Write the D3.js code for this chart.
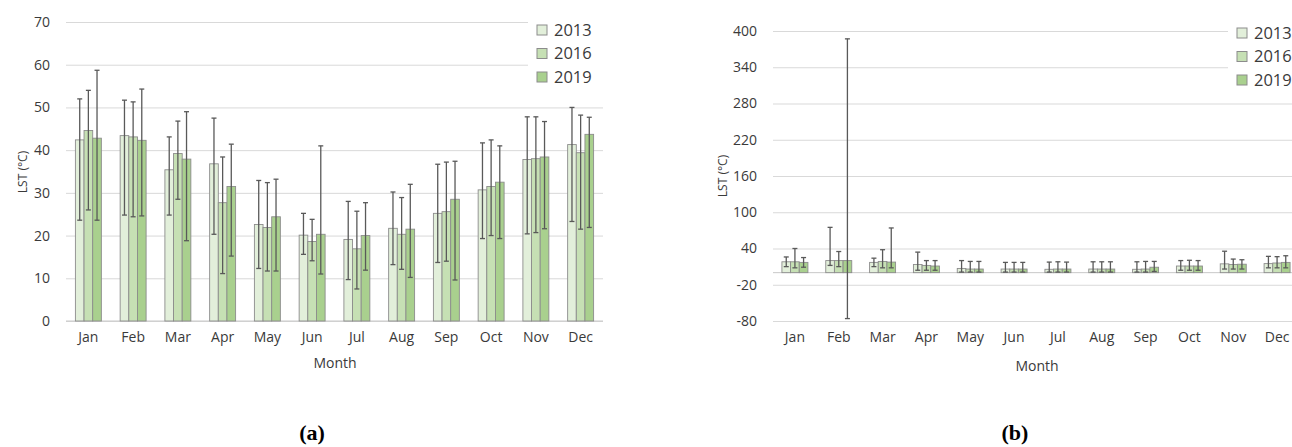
<!DOCTYPE html>
<html>
<head>
<meta charset="utf-8">
<script src="https://cdn.jsdelivr.net/npm/d3@7"></script>
<style>
  body { margin: 0; background: #fff; }
  text { font-family: "Open Sans", sans-serif; fill: #3a3a3a; }
</style>
</head>
<body>
<script>
// months + years
const months = ["Jan", "Feb", "Mar", "Apr", "May", "Jun", "Jul", "Aug", "Sep", "Oct", "Nov", "Dec"];
const years = ["2013", "2016", "2019"];
const colors = ["#e2efda", "#c6e0b4", "#a9d08e"];

// panel (a) mean LST and error bar ends
const lstA2013 = [42.4, 43.4, 35.4, 36.8, 22.6, 20.1, 19.1, 21.7, 25.2, 30.7, 37.8, 41.3];
const lstA2016 = [44.6, 43.1, 39.2, 27.7, 21.9, 18.6, 16.9, 20.3, 25.6, 31.5, 38.0, 39.4];
const lstA2019 = [42.8, 42.3, 37.9, 31.5, 24.4, 20.3, 20.0, 21.5, 28.5, 32.5, 38.4, 43.7];
const hiA2013 = [52.0, 51.7, 43.1, 47.5, 32.9, 25.2, 28.0, 30.2, 36.7, 41.7, 47.8, 50.0];
const hiA2016 = [54.0, 51.3, 46.8, 38.4, 32.4, 23.8, 25.7, 28.9, 37.2, 42.4, 47.8, 48.2];
const hiA2019 = [58.7, 54.3, 49.0, 41.4, 33.2, 41.0, 27.7, 32.0, 37.4, 41.0, 46.7, 47.7];
const loA2013 = [23.6, 24.8, 24.8, 20.3, 12.3, 15.6, 9.7, 13.2, 13.7, 19.3, 20.4, 23.3];
const loA2016 = [26.0, 24.4, 28.5, 11.1, 11.7, 14.1, 7.5, 12.1, 14.0, 20.0, 20.7, 21.5];
const loA2019 = [23.6, 24.6, 18.8, 15.2, 11.7, 11.0, 11.9, 10.2, 9.6, 19.3, 21.6, 21.9];
const ticksA = [0, 10, 20, 30, 40, 50, 60, 70];

// panel (b)
const lstB2013 = [18, 20, 17, 13.5, 7, 6, 5.6, 6, 5.6, 11, 14.6, 15];
const lstB2016 = [18, 20, 18.6, 12, 6, 6, 6, 6, 6, 11, 13.5, 16];
const lstB2019 = [17, 20, 17.5, 11, 6, 6, 6, 6, 9, 11, 14, 17];
const hiB2013 = [26, 75, 24, 34, 20, 17, 17.5, 18, 18, 20, 35.5, 27];
const hiB2016 = [40, 35, 38, 20, 18.6, 17, 18, 18, 18.6, 20.5, 22.5, 26.5];
const hiB2019 = [25, 387, 74, 20, 18.6, 17, 17.5, 18, 18.6, 20, 21.4, 28];
const loB2013 = [10, 12, 10, 4, 1, 1, 1, 1, 1, 4, 6, 8];
const loB2016 = [8, 10, 8, 4, 1, 1, 1, 1, 1, 4, 6, 8];
const loB2019 = [9, -76, 8, 4, 1, 1, 1, 1, 2, 4, 6, 8];
const ticksB = [-80, -20, 40, 100, 160, 220, 280, 340, 400];

var svg = d3.select("body").append("svg")
    .attr("width", 1292)
    .attr("height", 447);

function drawPanel(p) {
    let g = svg.append("g");
    let x = d3.scaleBand().domain(months).range([p.x0, p.x1]).paddingInner(p.pad).paddingOuter(p.pad / 2);
    let xs = d3.scaleBand().domain(years).range([0, x.bandwidth()]);
    let y = d3.scaleLinear().domain(p.domain).range([p.y0, p.y1]);

    // gridlines + y labels (plain hyphen for negatives, like the original)
    let yAxis = g.append("g")
        .attr("transform", "translate(" + p.x0 + ",0)")
        .call(d3.axisLeft(y).tickValues(p.ticks).tickFormat(d => String(d))
            .tickSize(-(p.x1 - p.x0)).tickPadding(16));
    yAxis.select(".domain").remove();
    yAxis.selectAll("line").attr("stroke", "#d9d9d9");
    yAxis.selectAll("text").attr("font-size", 14);

    // legend background hides top gridlines
    g.append("rect")
        .attr("x", p.legX - 9).attr("y", p.legY - 14)
        .attr("width", p.x1 - p.legX + 9).attr("height", 68)
        .attr("fill", "#fff");

    // zero line
    g.append("line")
        .attr("x1", p.x0).attr("x2", p.x1)
        .attr("y1", y(0)).attr("y2", y(0))
        .attr("stroke", "#c8c8c8");

    let xAxis = g.append("g")
        .attr("transform", "translate(0," + p.y0 + ")")
        .call(d3.axisBottom(x).tickSize(0).tickPadding(11));
    xAxis.select(".domain").remove();
    xAxis.selectAll("text").attr("font-size", 14);

    p.series.forEach(function(s, k) {
        let grp = g.append("g");
        months.forEach(function(m, i) {
            let bx = x(m) + xs(years[k]);
            let w = xs.bandwidth();
            let v = s.mean[i];
            grp.append("rect")
                .attr("x", bx).attr("width", w)
                .attr("y", Math.min(y(v), y(0)))
                .attr("height", Math.abs(y(0) - y(v)))
                .attr("fill", colors[k])
                .attr("stroke", "#8c8c8c")
                .attr("stroke-width", 0.9);
        });
    });
    // error bars drawn on top
    p.series.forEach(function(s, k) {
        months.forEach(function(m, i) {
            let cx = x(m) + xs(years[k]) + xs.bandwidth() / 2;
            let eg = g.append("g").attr("stroke", "#595959").attr("stroke-width", 1.3);
            eg.append("line").attr("x1", cx).attr("x2", cx).attr("y1", y(s.lo[i])).attr("y2", y(s.hi[i]));
            eg.append("line").attr("x1", cx - 2.5).attr("x2", cx + 2.5).attr("y1", y(s.hi[i])).attr("y2", y(s.hi[i]));
            eg.append("line").attr("x1", cx - 2.5).attr("x2", cx + 2.5).attr("y1", y(s.lo[i])).attr("y2", y(s.lo[i]));
        });
    });

    // legend
    years.forEach(function(yr, k) {
        let ly = p.legY + k * 23.5;
        g.append("rect")
            .attr("x", p.legX).attr("y", ly - 5)
            .attr("width", 10).attr("height", 10)
            .attr("fill", colors[k]).attr("stroke", "#8c8c8c");
        g.append("text")
            .attr("x", p.legX + 17).attr("y", ly)
            .attr("dy", "0.36em")
            .attr("font-size", 16.5)
            .text(yr);
    });

    // axis titles
    g.append("text")
        .attr("transform", "translate(" + p.ylabX + "," + p.ylabY + ") rotate(-90)")
        .attr("text-anchor", "middle")
        .attr("dy", "0.35em")
        .attr("font-size", 12)
        .text("LST (°C)");
    g.append("text")
        .attr("x", p.monthX).attr("y", p.monthY)
        .attr("text-anchor", "middle")
        .attr("font-size", 14)
        .text("Month");
    g.append("text")
        .attr("x", p.capX).attr("y", 440)
        .attr("text-anchor", "middle")
        .style("font-family", "'Liberation Serif', serif")
        .style("font-weight", "bold")
        .style("font-size", "22px")
        .style("fill", "#000")
        .text(p.cap);
}

drawPanel({
    x0: 66, x1: 603, y0: 321, y1: 22, domain: [0, 70], ticks: ticksA, pad: 0.42,
    series: [
        {mean: lstA2013, hi: hiA2013, lo: loA2013},
        {mean: lstA2016, hi: hiA2016, lo: loA2016},
        {mean: lstA2019, hi: hiA2019, lo: loA2019}
    ],
    legX: 537, legY: 30, ylabX: 23, ylabY: 172, monthX: 335, monthY: 368, capX: 312,
    cap: "(a)"
});

drawPanel({
    x0: 773, x1: 1299, y0: 321, y1: 31, domain: [-80, 400], ticks: ticksB, pad: 0.407,
    series: [
        {mean: lstB2013, hi: hiB2013, lo: loB2013},
        {mean: lstB2016, hi: hiB2016, lo: loB2016},
        {mean: lstB2019, hi: hiB2019, lo: loB2019}
    ],
    legX: 1237, legY: 33, ylabX: 723, ylabY: 176, monthX: 1037, monthY: 371, capX: 1015,
    cap: "(b)"
});
</script>
</body>
</html>
